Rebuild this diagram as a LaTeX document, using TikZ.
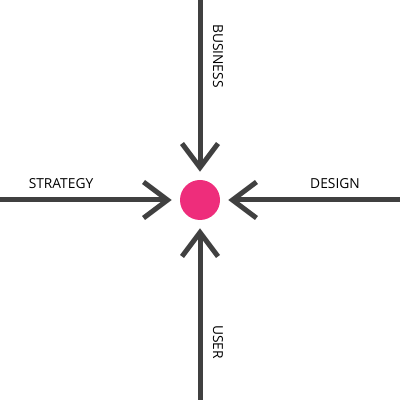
\documentclass[tikz,border=0pt]{standalone}
\usepackage{fontspec}
\setmainfont{Open Sans}
\usetikzlibrary{arrows.meta}
\definecolor{hubpink}{RGB}{238,45,123}
\definecolor{spoke}{RGB}{64,64,64}
\tikzset{>={Straight Barb[length=0.6cm,width=0.9cm]}}

\begin{document}
\begin{tikzpicture}
\useasboundingbox (0,0) rectangle (10,10);
\node[circle,fill=hubpink,inner sep=0pt,minimum size=1cm] (hub) at (5,5) {};
\coordinate (top) at (5,10);
\coordinate (left) at (0,5);
\coordinate (right) at (10,5);
\coordinate (bottom) at (5,0);
\path[draw=spoke,line width=0.125cm] (top) edge[->,shorten >=0.2cm] (hub);
\path[draw=spoke,line width=0.125cm] (left) edge[->,shorten >=0.2cm] (hub);
\path[draw=spoke,line width=0.125cm] (right) edge[->,shorten >=0.2cm] (hub);
\path[draw=spoke,line width=0.125cm] (bottom) edge[->,shorten >=0.2cm] (hub);
\node[rotate=-90,font=\fontsize{9.8}{12}\selectfont] (business) at (5.45,8.6) {BUSINESS};
\node[rotate=-90,font=\fontsize{9.8}{12}\selectfont] (user) at (5.45,1.45) {USER};
\node[font=\fontsize{9.8}{12}\selectfont] (strategy) at (1.525,5.4) {STRATEGY};
\node[font=\fontsize{9.8}{12}\selectfont] (design) at (8.375,5.4) {DESIGN};
\end{tikzpicture}
\end{document}
